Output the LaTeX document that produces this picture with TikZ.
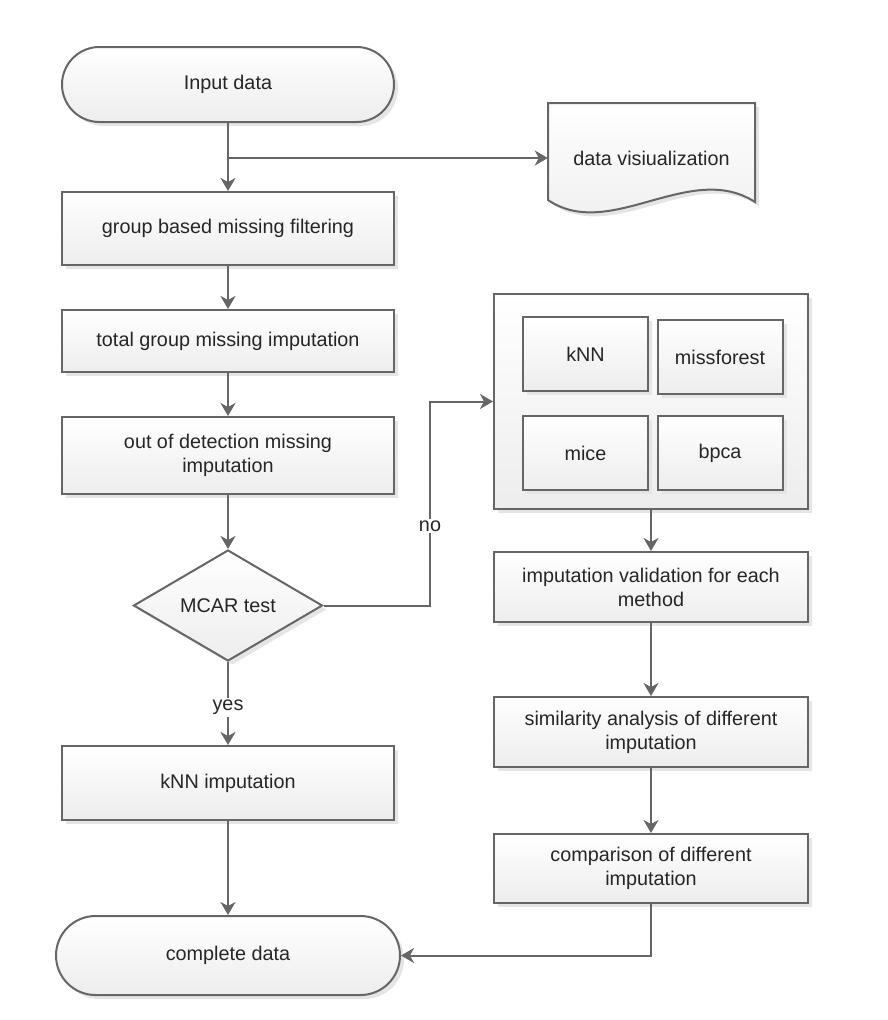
\documentclass[tikz,border=0pt]{standalone}
\usepackage{fontspec}
\setmainfont{Liberation Sans}
\usetikzlibrary{arrows.meta,shapes.geometric,shadows}

\begin{document}
\begin{tikzpicture}[x=1pt,y=-1pt,
  font=\fontsize{19.8}{24}\selectfont,text=black!85,
  shadebox/.style={draw=black!60,line width=2pt,top color=white,bottom color=black!7,
    drop shadow={shadow xshift=4pt,shadow yshift=-4pt,fill=black!10,opacity=1}},
  proc/.style={shadebox,rectangle,minimum width=332pt,align=center,inner sep=0pt},
  term/.style={shadebox,rectangle,align=center,inner sep=0pt},
  test/.style={shadebox,diamond,aspect=1.7,inner sep=0pt,minimum width=189pt,minimum height=111pt},
  inbox/.style={shadebox,rectangle,minimum width=125pt,minimum height=74pt,inner sep=0pt},
  arr/.style={draw=black!60,line width=2pt,-{Stealth[length=13pt,width=15pt,inset=4pt]}},
  lbl/.style={fill=white,inner sep=2pt}]
\useasboundingbox (0,0) rectangle (888,1020);

% left column
\node[term,minimum width=332pt,minimum height=75pt,rounded corners=37.5pt] (input) at (228,84.5) {Input data};
\node[proc,minimum height=73pt] (group) at (228,228.5) {group based missing filtering};
\node[proc,minimum height=62pt] (total) at (228,341) {total group missing imputation};
\node[proc,minimum height=77pt] (outdet) at (228,455.5) {out of detection missing\\imputation};
\node[test] (mcar) at (228,605.5) {MCAR test};
\node[proc,minimum height=74pt] (knnimp) at (228,783) {kNN imputation};
\node[term,minimum width=344pt,minimum height=79pt,rounded corners=39.5pt] (complete) at (228,955.5) {complete data};

% document shape
\draw[shadebox] (548,103) -- (755,103) -- (755,202) .. controls (690,160) and (610,242) .. (548,200) -- cycle;
\node[minimum width=207pt,minimum height=40pt,inner sep=0pt] (vis) at (651.5,158) {data visiualization};

% right column
\node[shadebox,rectangle,minimum width=314pt,minimum height=215pt] (methods) at (651,401.5) {};
\node[inbox] (knn) at (585.5,354) {kNN};
\node[inbox] (missf) at (720,357) {missforest};
\node[inbox] (mice) at (585.5,453) {mice};
\node[inbox] (bpca) at (720,453) {bpca};
\node[proc,minimum width=314pt,minimum height=70pt] (valid) at (651,587) {imputation validation for each\\method};
\node[proc,minimum width=314pt,minimum height=70pt] (simil) at (651,732) {similarity analysis of different\\imputation};
\node[proc,minimum width=314pt,minimum height=69pt] (compar) at (651,868.5) {comparison of different\\imputation};

\coordinate (split) at (input.south |- vis.west);
\coordinate (bend) at (430,0);

\draw[arr] (input) -- (group);
\draw[arr] (split) -- (vis.west);
\draw[arr] (group) -- (total);
\draw[arr] (total) -- (outdet);
\draw[arr] (outdet) -- (mcar);
\draw[arr] (mcar.east) -- (mcar.east -| bend) -- node[lbl,pos=0.39] {no} (methods.west -| bend) -- (methods.west);
\draw[arr] (mcar) -- node[lbl,pos=0.55] {yes} (knnimp);
\draw[arr] (knnimp) -- (complete);
\draw[arr] (methods) -- (valid);
\draw[arr] (valid) -- (simil);
\draw[arr] (simil) -- (compar);
\draw[arr] (compar.south) |- (complete.east);
\end{tikzpicture}
\end{document}
